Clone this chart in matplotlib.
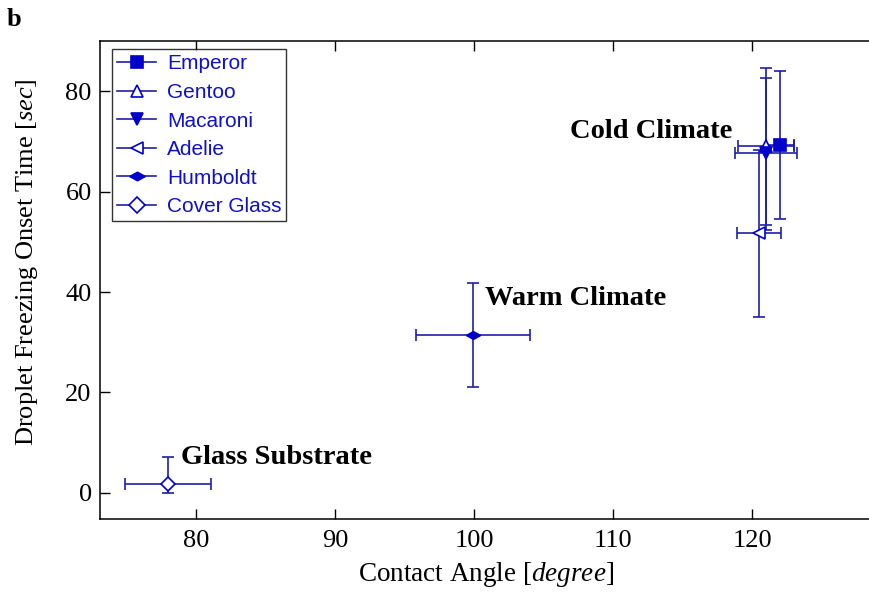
import matplotlib.pyplot as plt
from matplotlib.lines import Line2D

plt.rcParams["mathtext.fontset"] = "custom"
plt.rcParams["mathtext.rm"] = "Liberation Serif"
plt.rcParams["mathtext.it"] = "Liberation Serif:italic"

# penguin feather samples + cover glass
names = ["Emperor", "Gentoo", "Macaroni", "Adelie", "Humboldt", "Cover Glass"]
angle = [122.0, 121.0, 121.0, 120.5, 99.9, 78.0]
angle_err = [1.0, 2.0, 2.2, 1.6, 4.1, 3.1]
onset = [69.3, 69.0, 67.7, 51.7, 31.4, 1.7]
onset_err_lo = [14.8, 15.6, 15.3, 16.6, 10.3, 1.7]
onset_err_hi = [14.8, 15.6, 14.9, 16.6, 10.4, 5.4]

labels = ["Cold Climate", "Warm Climate", "Glass Substrate"]
label_x = [106.9, 100.8, 78.9]
label_y = [72.0, 38.8, 7.0]

flat_diamond = [(-1, 0), (0, 0.55), (1, 0), (0, -0.55), (-1, 0)]
markers = ["s", "^", "v", "<", flat_diamond, "D"]
filled = [True, False, True, False, True, False]
msizes = [8, 8, 8, 8, 10, 7]

line_col = "#1f1fa8"
mark_col = "#0000cc"

fig = plt.figure(figsize=(8.7, 5.99), dpi=100)
ax = fig.add_axes([100 / 870, 80 / 599, 772 / 870, 478 / 599])

handles = []
for i in range(len(names)):
    face = mark_col if filled[i] else "white"
    ax.errorbar(angle[i], onset[i], xerr=angle_err[i],
                yerr=[[onset_err_lo[i]], [onset_err_hi[i]]],
                fmt="none", ecolor=line_col, elinewidth=1.2, capsize=4.5,
                capthick=1.2, zorder=2)
    ax.plot(angle[i], onset[i], linestyle="none", marker=markers[i],
            markersize=msizes[i], markerfacecolor=face,
            markeredgecolor=mark_col, markeredgewidth=1.2, zorder=3)
    handles.append(Line2D([0], [0], color=line_col, lw=1.2, marker=markers[i],
                          markersize=msizes[i] + 1, markerfacecolor=face,
                          markeredgecolor=mark_col, markeredgewidth=1.2,
                          label=names[i]))

for t, x, y in zip(labels, label_x, label_y):
    ax.text(x, y, t, family="Liberation Serif", fontweight="bold",
            fontsize=20.5, va="center", ha="left")

ax.set_xlim(73.1, 128.63)
ax.set_ylim(-5.2, 90)
ax.set_xticks([80, 90, 100, 110, 120])
ax.set_yticks([0, 20, 40, 60, 80])
ax.tick_params(direction="in", length=7, width=1, top=True, right=False,
               labelsize=19)
ax.tick_params(axis="x", pad=8)
ax.tick_params(axis="y", pad=6)
for lab in ax.get_xticklabels() + ax.get_yticklabels():
    lab.set_family("Liberation Serif")
for s in ax.spines.values():
    s.set_linewidth(1.1)
ax.spines["right"].set_visible(False)

ax.set_xlabel("Contact Angle [$\\mathit{degree}$]", family="Liberation Serif",
              fontsize=19.5, labelpad=6)
ax.set_ylabel("Droplet Freezing Onset Time [$\\mathit{sec}$]",
              family="Liberation Serif", fontsize=19)
ax.yaxis.set_label_coords(-0.078, 0.538)

leg = ax.legend(handles=handles, loc="upper left", bbox_to_anchor=(0.015, 0.983),
                prop={"family": "Liberation Sans", "size": 15},
                frameon=True, fancybox=False, edgecolor="black",
                handlelength=1.9, handletextpad=0.5, labelspacing=0.46,
                borderpad=0.25, borderaxespad=0)
leg.get_frame().set_linewidth(1.0)
for txt in leg.get_texts():
    txt.set_color("#1010c8")

fig.text(7 / 870, 1 - 20 / 599, "b", family="Liberation Serif",
         fontweight="bold", fontsize=19, va="center", ha="left")

fig.savefig("out.png", dpi=100)
